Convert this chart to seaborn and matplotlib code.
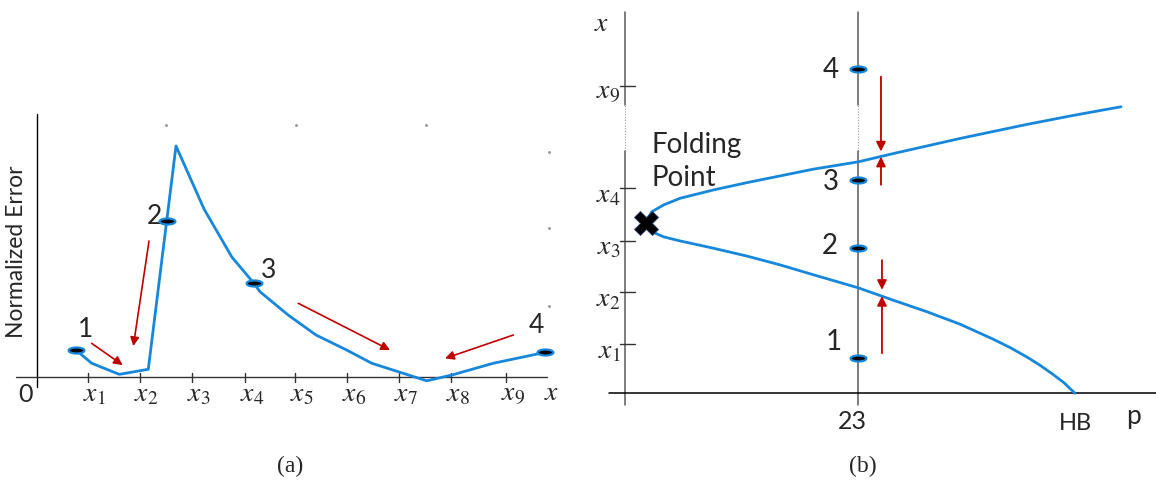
import numpy as np
import pandas as pd
import matplotlib
matplotlib.use('Agg')
import matplotlib.pyplot as plt
from matplotlib.path import Path
import seaborn as sns

sns.set_style('white')
plt.rcParams['font.family'] = ['Lato', 'DejaVu Sans']
plt.rcParams['mathtext.fontset'] = 'stix'

BLUE = '#1787dc'
RED = '#c00000'

# ---------------- panel (a): normalized error along x ----------------
err_x = [0.740, 1.040, 1.568, 2.122, 2.474, 2.652, 3.187, 3.717, 4.143, 4.258,
         4.799, 5.329, 5.916, 6.394, 7.446, 7.924, 8.719, 9.707]
err_y = [0.118, 0.061, 0.013, 0.035, 0.676, 1.000, 0.728, 0.521, 0.406, 0.370,
         0.269, 0.183, 0.118, 0.061, -0.015, 0.010, 0.061, 0.108]
err_marked = [0, 4, 8, 17]
err_labels = ['1', '2', '3', '4']
err_label_pos = [(0.931, 0.208), (2.231, 0.697), (4.417, 0.461), (9.549, 0.226)]
err_arrows = [((1.040, 0.147), (1.633, 0.053)),
              ((2.136, 0.589), (1.836, 0.135)),
              ((4.990, 0.320), (6.744, 0.118)),
              ((9.101, 0.183), (7.795, 0.082))]
a_ticks = [0.96, 1.96, 2.96, 3.97, 4.93, 5.92, 6.92, 7.91, 8.96]
a_tick_labels = ['$x_{%d}$' % i for i in range(1, 10)]

# ---------------- panel (b): bifurcation diagram ----------------
upper_p = [2.05, 2.64, 3.79, 5.44, 8.73, 12.03, 15.32, 18.61, 23.03, 26.52, 33.11,
           39.71, 44.48, 49.03]
upper_s = [3.28, 3.49, 3.62, 3.75, 3.91, 4.05, 4.18, 4.31, 4.45, 4.61, 4.90,
           5.17, 5.35, 5.51]
lower_p = [2.05, 2.64, 3.79, 5.44, 8.73, 12.03, 15.32, 18.61, 23.03, 26.52, 29.82,
           33.11, 36.40, 38.06, 39.71, 41.02, 42.33, 43.41, 44.48]
lower_s = [3.28, 3.11, 3.01, 2.93, 2.79, 2.64, 2.47, 2.28, 2.03, 1.79, 1.57,
           1.33, 1.04, 0.88, 0.70, 0.54, 0.36, 0.20, 0.0]
fold_p, fold_s = 2.05, 3.28
p_sample = 23
sample_s = [0.68, 2.79, 4.10, 6.23]
sample_labels = ['1', '2', '3', '4']
sample_label_pos = [(20.59, 0.99), (20.19, 2.84), (20.33, 4.07), (20.33, 6.22)]
b_arrows = [((25.3, 6.09), (25.3, 4.65)),
            ((25.3, 4.01), (25.3, 4.55)),
            ((25.4, 2.56), (25.4, 1.99)),
            ((25.4, 0.77), (25.4, 1.87))]
b_ticks = [0.942, 1.942, 2.935, 3.942, 5.915]
b_tick_labels = ['$x_{1}$', '$x_{2}$', '$x_{3}$', '$x_{4}$', '$x_{9}$']
p_hb = 44.48

# ellipse-shaped marker for the sample points
t = np.linspace(0, 2 * np.pi, 40)
ellipse = Path(np.column_stack([np.cos(t), 0.38 * np.sin(t)]), closed=True)

fig = plt.figure(figsize=(11.56, 4.8), dpi=100)
ax1 = fig.add_axes([0, 0, 580 / 1156, 1])
ax2 = fig.add_axes([580 / 1156, 0, 576 / 1156, 1])
for ax in (ax1, ax2):
    ax.set_axis_off()
ax1.set_xlim(-0.713, 10.376)
ax1.set_ylim(-0.4436, 1.631)
ax2.set_xlim(-4.448, 52.486)
ax2.set_ylim(-1.667, 7.563)

# ---- panel (a) ----
ax1.plot([0, 0], [-0.042, 1.138], color='black', lw=1.0)
ax1.plot([-0.407, 9.746], [0, 0], color='#333333', lw=1.0)
for xt, lab in zip(a_ticks, a_tick_labels):
    ax1.plot([xt, xt], [-0.02, 0.02], color='#333333', lw=1.0)
    ax1.text(xt + 0.13, -0.074, lab, ha='center', va='center', fontsize=20)
ax1.text(-0.235, -0.076, '0', ha='center', va='center', fontsize=18)
ax1.text(9.836, -0.062, '$x$', ha='center', va='center', fontsize=20)

err = pd.DataFrame({'x': err_x, 'y': err_y})
sns.lineplot(data=err, x='x', y='y', sort=False, color=BLUE, lw=2.0, ax=ax1)
sns.scatterplot(data=err.iloc[err_marked], x='x', y='y', marker=ellipse, s=130,
                color='black', edgecolor=BLUE, linewidth=1.6, zorder=5, ax=ax1)
for lab, (lx, ly) in zip(err_labels, err_label_pos):
    ax1.text(lx, ly, lab, ha='center', va='center', fontsize=19)
for (sx, sy), (ex, ey) in err_arrows:
    ax1.annotate('', xy=(ex, ey), xytext=(sx, sy),
                 arrowprops=dict(arrowstyle='-|>', color=RED, lw=1.2,
                                 mutation_scale=13, shrinkA=0, shrinkB=0))
# faint leftover grid dots
ax1.scatter([2.455, 4.941, 7.426, 9.790, 9.790, 9.790],
            [1.092, 1.092, 1.092, 0.975, 0.644, 0.310], s=1.2, color='#999999')
fig.text(17 / 1156, 1 - 252 / 480, 'Normalized Error', rotation=90,
         ha='center', va='center', fontsize=16.5)

# ---- panel (b) ----
for px in (0, p_sample):
    ax2.plot([px, px], [5.54, 7.34], color='#5a5a5a', lw=1.1)
    ax2.plot([px, px], [4.65, 5.54], color='#9a9a9a', lw=0.8, ls=(0, (1, 1.5)))
    ax2.plot([px, px], [-0.225, 4.65], color='#5a5a5a', lw=1.1)
ax2.plot([-1.55, 52.5], [0, 0], color='black', lw=1.1)
for st, lab in zip(b_ticks, b_tick_labels):
    ax2.plot([-0.5, 1.0], [st, st], color='#333333', lw=1.0)
    ax2.text(-0.45, st - 0.12, lab, ha='right', va='center', fontsize=20)
ax2.text(-2.3, 7.12, '$x$', ha='center', va='center', fontsize=20)

sns.lineplot(x=upper_p, y=upper_s, sort=False, color=BLUE, lw=2.0, ax=ax2)
sns.lineplot(x=lower_p, y=lower_s, sort=False, color=BLUE, lw=2.0, ax=ax2)
ax2.scatter([fold_p], [fold_s], marker='X', s=300, color='black',
            edgecolor='#2a4a7a', linewidth=0.6, zorder=6)
sns.scatterplot(x=[p_sample] * len(sample_s), y=sample_s, marker=ellipse, s=130,
                color='black', edgecolor=BLUE, linewidth=1.6, zorder=5, ax=ax2)
for lab, (lx, ly) in zip(sample_labels, sample_label_pos):
    ax2.text(lx, ly, lab, ha='center', va='center', fontsize=20)
for (sx, sy), (ex, ey) in b_arrows:
    ax2.annotate('', xy=(ex, ey), xytext=(sx, sy),
                 arrowprops=dict(arrowstyle='-|>', color=RED, lw=1.3,
                                 mutation_scale=14, shrinkA=0, shrinkB=0))
ax2.text(2.64, 4.775, 'Folding', ha='left', va='center', fontsize=20)
ax2.text(2.64, 4.135, 'Point', ha='left', va='center', fontsize=20)
ax2.text(22.51, -0.546, '23', ha='center', va='center', fontsize=18)
ax2.text(p_hb, -0.577, 'HB', ha='center', va='center', fontsize=17)
ax2.text(50.24, -0.45, 'p', ha='center', va='center', fontsize=19)

fig.text(290 / 1156, 1 - 466 / 480, '(a)', ha='center', va='center',
         fontsize=17, family=['Liberation Serif', 'DejaVu Serif'])
fig.text(863 / 1156, 1 - 466 / 480, '(b)', ha='center', va='center',
         fontsize=17, family=['Liberation Serif', 'DejaVu Serif'])

fig.savefig('out.png', dpi=100)
